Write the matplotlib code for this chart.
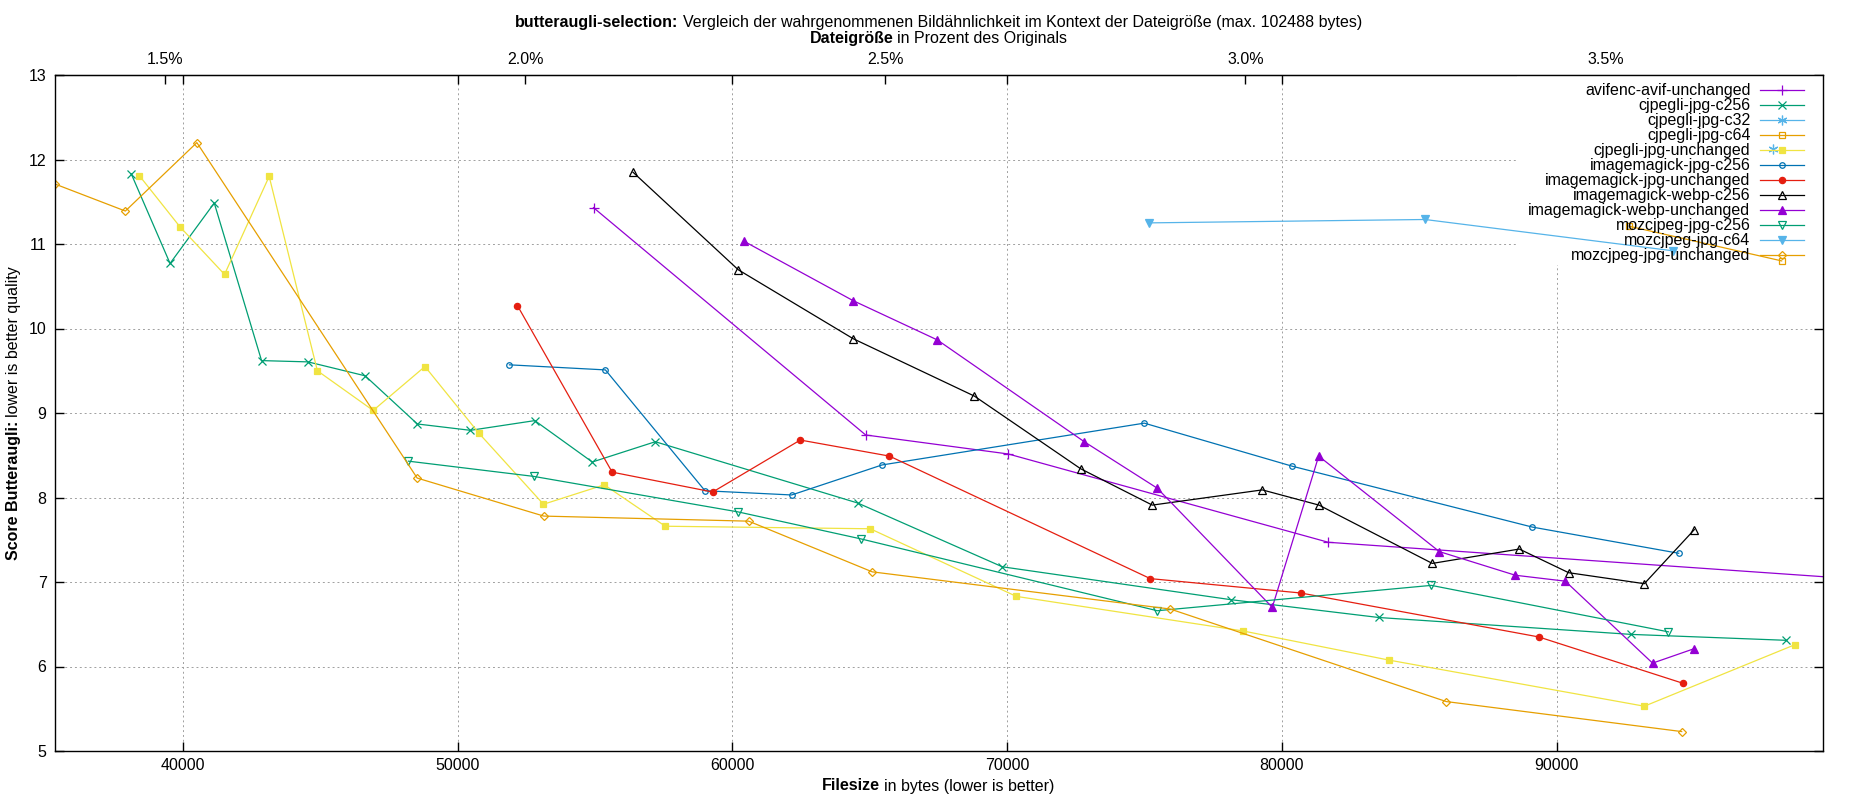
import matplotlib
matplotlib.use("Agg")
import matplotlib.pyplot as plt
from matplotlib.patches import Rectangle
from matplotlib.ticker import FixedLocator, FuncFormatter

plt.rcParams['font.family'] = ['Liberation Sans', 'DejaVu Sans']
FS = 11.5

# original image size used for the percent axis on top
ORIGINAL_BYTES = 2622600

# series (filesize in bytes, butteraugli score)
avifenc_unchanged_x = [54945, 64852, 70044, 81693, 102488]
avifenc_unchanged_y = [11.43, 8.74, 8.515, 7.47, 7.00]

cjpegli_c256_x = [38118, 39530, 41139, 42861, 44550, 46633, 48533, 50466, 52807,
                  54900, 57194, 64560, 69826, 78162, 83527, 92712, 98354]
cjpegli_c256_y = [11.83, 10.77, 11.485, 9.62, 9.605, 9.44, 8.87, 8.795, 8.91,
                  8.42, 8.66, 7.935, 7.18, 6.79, 6.58, 6.38, 6.31]

cjpegli_c32_x = [97893]
cjpegli_c32_y = [12.12]

cjpegli_c64_x = [92650, 98197]
cjpegli_c64_y = [11.21, 10.80]

cjpegli_unchanged_x = [38409, 39887, 41514, 43138, 44893, 46924, 48809, 50775, 53123,
                       55337, 57558, 65020, 70335, 78598, 83914, 93197, 98693]
cjpegli_unchanged_y = [11.81, 11.205, 10.64, 11.80, 9.50, 9.03, 9.55, 8.76, 7.92,
                       8.15, 7.66, 7.63, 6.83, 6.42, 6.075, 5.53, 6.26]

im_jpg_c256_x = [51885, 55378, 59003, 62158, 65446, 74994, 80383, 89119, 94448]
im_jpg_c256_y = [9.57, 9.51, 8.08, 8.03, 8.385, 8.88, 8.37, 7.65, 7.34]

im_jpg_unchanged_x = [52177, 55624, 59283, 62472, 65718, 75213, 80687, 89351, 94617]
im_jpg_unchanged_y = [10.27, 8.30, 8.065, 8.68, 8.49, 7.04, 6.87, 6.35, 5.80]

im_webp_c256_x = [56381, 60215, 64393, 68810, 72679, 75286, 79290, 81354, 85478,
                  88646, 90443, 93197, 95017]
im_webp_c256_y = [11.85, 10.695, 9.88, 9.20, 8.34, 7.91, 8.09, 7.91, 7.22,
                  7.39, 7.11, 6.98, 7.62]

im_webp_unchanged_x = [60437, 64393, 67459, 72810, 75467, 79654, 81343, 85734,
                       88500, 90320, 93497, 95003]
im_webp_unchanged_y = [11.03, 10.33, 9.865, 8.66, 8.11, 6.70, 8.49, 7.36,
                       7.08, 7.01, 6.04, 6.21]

mozcjpeg_c256_x = [48209, 52763, 60200, 64681, 75467, 85443, 94075]
mozcjpeg_c256_y = [8.43, 8.25, 7.83, 7.51, 6.66, 6.96, 6.41]

mozcjpeg_c64_x = [75177, 85214, 94229]
mozcjpeg_c64_y = [11.25, 11.29, 10.92]

mozcjpeg_unchanged_x = [35340, 37903, 40506, 48526, 53135, 60593, 65093, 75941,
                        85988, 94557]
mozcjpeg_unchanged_y = [11.71, 11.39, 12.20, 8.23, 7.78, 7.72, 7.12, 6.68,
                        5.585, 5.23]

x_ticks = [40000, 50000, 60000, 70000, 80000, 90000]
y_ticks = [5, 6, 7, 8, 9, 10, 11, 12, 13]
pct_ticks = [1.5, 2.0, 2.5, 3.0, 3.5]

# gnuplot default line colours
violet = '#9400D3'
green = '#009E73'
skyblue = '#56B4E9'
orange = '#E69F00'
yellow = '#F0E442'
blue = '#0072B2'
red = '#E51E10'
black = '#000000'

series = [
    ("avifenc-avif-unchanged", avifenc_unchanged_x, avifenc_unchanged_y, violet, '+', True, 7),
    ("cjpegli-jpg-c256", cjpegli_c256_x, cjpegli_c256_y, green, 'x', True, 6),
    ("cjpegli-jpg-c32", cjpegli_c32_x, cjpegli_c32_y, skyblue, (6, 2, 0), True, 7),
    ("cjpegli-jpg-c64", cjpegli_c64_x, cjpegli_c64_y, orange, 's', False, 5),
    ("cjpegli-jpg-unchanged", cjpegli_unchanged_x, cjpegli_unchanged_y, yellow, 's', True, 5),
    ("imagemagick-jpg-c256", im_jpg_c256_x, im_jpg_c256_y, blue, 'o', False, 4),
    ("imagemagick-jpg-unchanged", im_jpg_unchanged_x, im_jpg_unchanged_y, red, 'o', True, 4.5),
    ("imagemagick-webp-c256", im_webp_c256_x, im_webp_c256_y, black, '^', False, 6),
    ("imagemagick-webp-unchanged", im_webp_unchanged_x, im_webp_unchanged_y, violet, '^', True, 6),
    ("mozcjpeg-jpg-c256", mozcjpeg_c256_x, mozcjpeg_c256_y, green, 'v', False, 6),
    ("mozcjpeg-jpg-c64", mozcjpeg_c64_x, mozcjpeg_c64_y, skyblue, 'v', True, 6),
    ("mozcjpeg-jpg-unchanged", mozcjpeg_unchanged_x, mozcjpeg_unchanged_y, orange, 'D', False, 4),
]

fig = plt.figure(figsize=(18.5, 8), dpi=100)
ax = fig.add_axes([0.0297, 0.06125, 0.95554, 0.845])

for label, xs, ys, col, mk, filled, ms in series:
    ax.plot(xs, ys, color=col, lw=0.9, marker=mk, markersize=ms,
            markerfacecolor=col if filled else 'none', markeredgecolor=col,
            markeredgewidth=0.9, label=label, zorder=2)

ax.set_xlim(35340, 99690)
ax.set_ylim(5, 13)
ax.xaxis.set_major_locator(FixedLocator(x_ticks))
ax.yaxis.set_major_locator(FixedLocator(y_ticks))
ax.xaxis.set_major_formatter(FuncFormatter(lambda v, p: "%d" % v))
ax.yaxis.set_major_formatter(FuncFormatter(lambda v, p: "%d" % v))
ax.tick_params(direction='in', length=6.3, width=1.0, top=True, right=True,
               labelsize=FS, color='black')
ax.tick_params(axis='x', pad=5)
ax.tick_params(axis='y', pad=6)
for s in ax.spines.values():
    s.set_linewidth(1.0)

ax.set_axisbelow(True)
ax.grid(True, color='#a0a0a0', lw=0.7, linestyle=(0, (2, 3)))

# percent axis on top
sec = ax.secondary_xaxis('top', functions=(lambda b: b / ORIGINAL_BYTES * 100,
                                           lambda p: p * ORIGINAL_BYTES / 100))
sec.xaxis.set_major_locator(FixedLocator(pct_ticks))
sec.xaxis.set_major_formatter(FuncFormatter(lambda v, p: "%.1f%%" % v))
sec.tick_params(direction='in', length=6.3, width=1.0, labelsize=FS, pad=6)

# white area behind the key hides the grid, data lines stay on top
ax.add_patch(Rectangle((0.827, 0.719), 0.173, 0.281, transform=ax.transAxes,
                       facecolor='white', edgecolor='none', zorder=1))
leg = ax.legend(loc='upper right', bbox_to_anchor=(0.9894, 0.988), frameon=False,
                markerfirst=False, fontsize=FS, handlelength=2.75, handletextpad=0.6,
                labelspacing=0.0, borderpad=0, borderaxespad=0, numpoints=1)
leg.set_zorder(3)


def mixed_text(cx, cy, bold, normal, rotation=0):
    r = fig.canvas.get_renderer()
    inv = fig.transFigure.inverted()
    space = 0.25 * FS * fig.dpi / 72.0
    if rotation == 0:
        tb = fig.text(0, cy, bold, fontsize=FS, fontweight='bold', ha='left', va='center')
        tn = fig.text(0, cy, normal, fontsize=FS, ha='left', va='center')
        wb = tb.get_window_extent(r).width
        wn = tn.get_window_extent(r).width
        total = wb + space + wn
        x0 = cx * fig.bbox.width - total / 2
        tb.set_x(inv.transform((x0, 0))[0])
        tn.set_x(inv.transform((x0 + wb + space, 0))[0])
    else:
        tb = fig.text(cx, 0, bold, fontsize=FS, fontweight='bold', ha='center',
                      va='bottom', rotation=90)
        tn = fig.text(cx, 0, normal, fontsize=FS, ha='center', va='bottom', rotation=90)
        hb = tb.get_window_extent(r).height
        hn = tn.get_window_extent(r).height
        total = hb + space + hn
        y0 = cy * fig.bbox.height - total / 2
        tb.set_y(inv.transform((0, y0))[1])
        tn.set_y(inv.transform((0, y0 + hb + space))[1])


mixed_text(0.5073, 1 - 23 / 800, "butteraugli-selection:",
           "Vergleich der wahrgenommenen Bildähnlichkeit im Kontext der Dateigröße (max. 102488 bytes)")
mixed_text(0.5073, 1 - 38 / 800, "Dateigröße", "in Prozent des Originals")
mixed_text(0.5073, 1 - 786 / 800, "Filesize", "in bytes (lower is better)")
mixed_text(14 / 1850, 1 - 413 / 800, "Score Butteraugli:", "lower is better quality", rotation=90)

fig.savefig('out.png', dpi=100)
